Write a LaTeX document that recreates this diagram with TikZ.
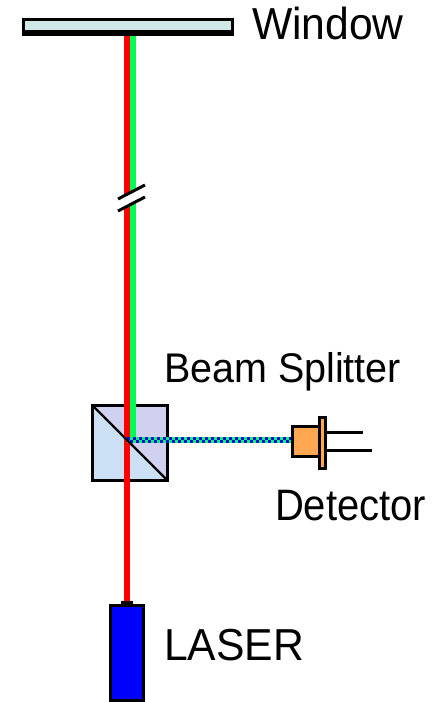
\documentclass[tikz,border=0pt]{standalone}
\usepackage{fontspec}
\setmainfont{Liberation Sans}
\definecolor{winfill}{HTML}{CFE8E8}
\definecolor{cubeup}{HTML}{D0D0F0}
\definecolor{cubelow}{HTML}{CCE0F5}
\definecolor{beamgreen}{HTML}{00FF55}
\definecolor{detorange}{HTML}{FFA851}
\tikzset{
  px/.style={line width=2.25pt,draw=black,line join=miter,inner sep=0pt,outer sep=0pt,anchor=north west},
  label/.style={anchor=base west,inner sep=0pt,outer sep=0pt,text=black},
  lead/.style={draw=black,line width=2.25pt},
  beam/.style={line width=4.5pt},
  halfbeam/.style={line width=2.25pt,blue,dash pattern=on 2.25pt off 2.25pt},
}
\begin{document}
\begin{tikzpicture}[x=0.75pt,y=-0.75pt]
\useasboundingbox (0,0) rectangle (448,702);
% coordinates
\coordinate (redtop) at (127,36);
\coordinate (redbot) at (127,604);
\coordinate (greentop) at (133,36);
\coordinate (greenbot) at (133,437);
\coordinate (hitL) at (127,440);
\coordinate (hitR) at (292,440);
% cube
\fill[cubeup] (92.5,405.5) -- (167.5,405.5) -- (167.5,480.5) -- cycle;
\fill[cubelow] (92.5,405.5) -- (92.5,480.5) -- (167.5,480.5) -- cycle;
\draw[line width=1.7pt] (93,406) -- (167,480);
\node[px,minimum width=56.25pt,minimum height=56.25pt] (cube) at (92.5,405.5) {};
% beams
\draw[red,beam] (redtop) -- (redbot);
\draw[beamgreen,beam] (greentop) -- (greenbot);
\draw[beamgreen,beam] (hitL) -- (hitR);
\draw[halfbeam] (127,438.5) -- (292,438.5);
\draw[halfbeam,dash phase=2.25pt] (127,441.5) -- (292,441.5);
\draw[line width=1.7pt] (124,437) -- (132,445);
% break
\fill[white] (118,199) -- (145,185) -- (145,197) -- (118,211) -- cycle;
\draw[line width=2.25pt] (118,199) -- (145,185);
\draw[line width=2.25pt] (118,211) -- (145,197);
% window
\fill[black] (22,18) rectangle (234,36);
\node[fill=winfill,draw=none,minimum width=154.5pt,minimum height=6.75pt,inner sep=0pt,outer sep=0pt,anchor=north west] (win) at (25,21) {};
% detector
\node[px,fill=detorange,minimum width=20.25pt,minimum height=22.5pt] (det) at (292.5,426.5) {};
\node[px,fill=detorange,minimum width=4.5pt,minimum height=38.25pt] (flange) at (319.5,417.5) {};
\coordinate (lead1a) at (327,432.5);
\coordinate (lead1b) at (363,432.5);
\coordinate (lead2a) at (327,450.5);
\coordinate (lead2b) at (372,450.5);
\draw[lead] (lead1a) -- (lead1b);
\draw[lead] (lead2a) -- (lead2b);
% laser
\fill[black] (121,601) rectangle (133,606);
\node[px,fill=blue,minimum width=24.75pt,minimum height=71.25pt] (laser) at (110.5,605.5) {};
% text
\node[label,font=\fontsize{32pt}{32pt}\selectfont] (twin) at (252,40) {\scalebox{1}[1.05]{Window}};
\node[label,font=\fontsize{29.6pt}{30pt}\selectfont] (tbs) at (164,382) {\scalebox{1}[1.05]{Beam Splitter}};
\node[label,font=\fontsize{30pt}{31pt}\selectfont] (tdet) at (275,520) {\scalebox{1}[1.1]{Detector}};
\node[label,font=\fontsize{32pt}{32pt}\selectfont] (tlas) at (164,660) {\scalebox{1}[1.05]{LASER}};
\end{tikzpicture}
\end{document}
